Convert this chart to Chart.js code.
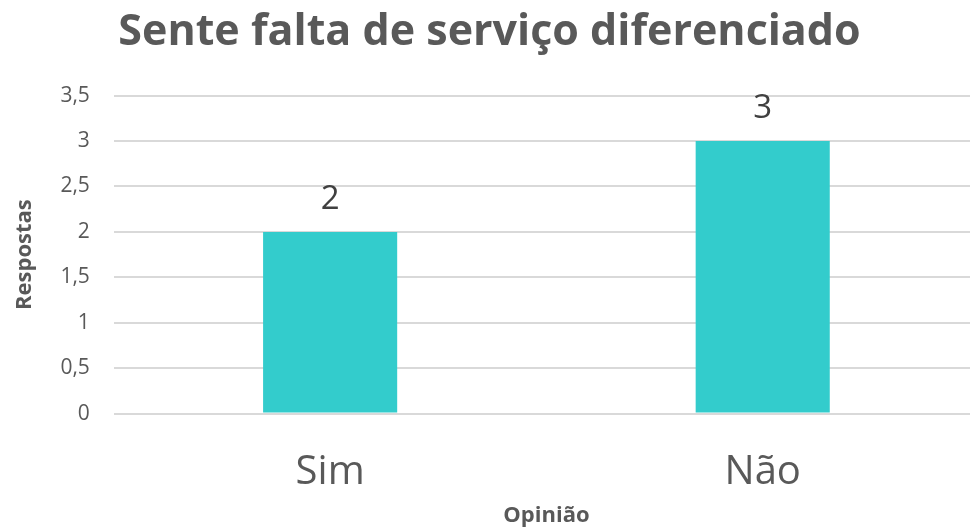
<!DOCTYPE html>
<html>
<head>
<meta charset="utf-8">
<script src="https://cdn.jsdelivr.net/npm/chart.js@4"></script>
<style>
  html, body { margin: 0; padding: 0; background: #fff; overflow: hidden; }
  #wrap { width: 979px; height: 529px; }
</style>
</head>
<body>
<div id="wrap"><canvas id="grafico"></canvas></div>
<script>
// Dados do gráfico
const categorias = ['Sim', 'Não'];
const respostas = [2, 3];
const ticksY = [0, 0.5, 1, 1.5, 2, 2.5, 3, 3.5];

const corTexto = '#595959';
const corBarra = '#33CCCC';
const corGrade = '#d9d9d9';

// Plugin simples para os rótulos de dados acima das barras
const rotulosDados = {
    id: 'rotulosDados',
    afterDatasetsDraw(chart) {
        const ctx = chart.ctx;
        const meta = chart.getDatasetMeta(0);
        ctx.save();
        ctx.font = '33px "Open Sans"';
        ctx.fillStyle = '#404040';
        ctx.textAlign = 'center';
        ctx.textBaseline = 'alphabetic';
        meta.data.forEach(function(barra, i) {
            ctx.fillText(String(chart.data.datasets[0].data[i]), barra.x, barra.y - 23);
        });
        ctx.restore();
    }
};

const ctx = document.getElementById('grafico').getContext('2d');
new Chart(ctx, {
    type: 'bar',
    data: {
        labels: categorias,
        datasets: [{
            label: 'Respostas',
            data: respostas,
            backgroundColor: corBarra,
            borderWidth: 0,
            barPercentage: 1,
            categoryPercentage: 0.31
        }]
    },
    options: {
        responsive: true,
        maintainAspectRatio: false,
        animation: false,
        layout: { padding: { left: 0, right: 0, top: 7, bottom: 0 } },
        plugins: {
            legend: { display: false },
            tooltip: { enabled: false },
            title: {
                display: true,
                text: 'Sente falta de serviço diferenciado',
                color: corTexto,
                font: { family: '"Open Sans"', size: 43, weight: 'bold' },
                padding: { top: 0, bottom: 37 }
            }
        },
        scales: {
            x: {
                grid: { display: false, drawTicks: false },
                border: { display: false },
                ticks: {
                    color: corTexto,
                    font: { family: '"Open Sans"', size: 40 },
                    padding: 35
                },
                title: {
                    display: true,
                    text: 'Opinião',
                    color: corTexto,
                    font: { family: '"Open Sans"', size: 22, weight: 'bold' },
                    // o Chart.js reserva o padding dos ticks duas vezes; compensa aqui
                    padding: { top: -29, bottom: 0 }
                }
            },
            y: {
                min: 0,
                max: 3.5,
                grid: { color: corGrade, lineWidth: 2, drawTicks: false },
                border: { display: false },
                afterBuildTicks(axis) {
                    axis.ticks = ticksY.map(v => ({ value: v }));
                },
                ticks: {
                    color: corTexto,
                    font: { family: '"Open Sans"', size: 21 },
                    padding: 24,
                    callback: v => v.toLocaleString('pt-BR')
                },
                title: {
                    display: true,
                    text: 'Respostas',
                    color: corTexto,
                    font: { family: '"Open Sans"', size: 22, weight: 'bold' },
                    padding: { top: 12, bottom: -2 }
                }
            }
        }
    },
    plugins: [rotulosDados]
});
</script>
</body>
</html>
